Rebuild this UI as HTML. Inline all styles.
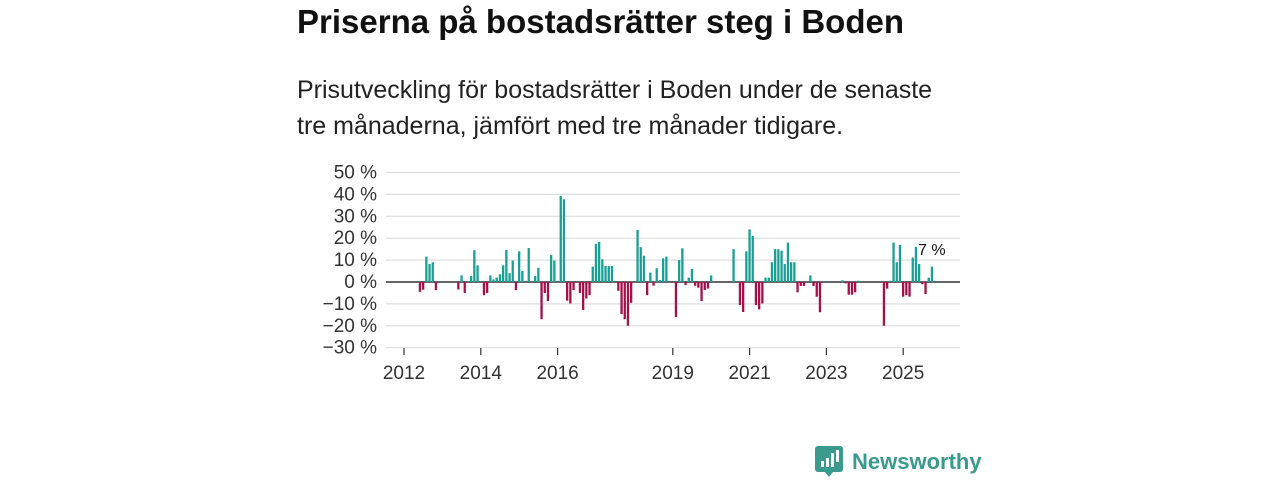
<!DOCTYPE html>
<html><head><meta charset="utf-8"><style>
body{margin:0;width:1280px;height:480px;background:#fff;font-family:"Liberation Sans","DejaVu Sans",sans-serif;overflow:hidden;position:relative}
h1{position:absolute;left:297px;top:3px;margin:0;font-size:33px;font-weight:bold;color:#111}
p{position:absolute;left:297px;top:72px;margin:0;font-size:25px;line-height:36px;color:#222;width:660px}
svg{position:absolute;left:0;top:0}
</style></head><body>
<h1>Priserna på bostadsrätter steg i Boden</h1>
<p>Prisutveckling för bostadsrätter i Boden under de senaste tre månaderna, jämfört med tre månader tidigare.</p>
<svg id="c" width="1280" height="480"></svg>
<script>
const startYear = 2012;
const values = [0,0,0,0,0,-4.5,-3.5,11.6,8.2,9,-3.7,0,0,0,0,0,0,-3.4,3,-5,0.3,2.7,14.5,7.6,0,-6,-5,3,1.2,2,3.5,7.6,14.6,4,9.8,-3.7,14,5,0,15.5,0,2.7,6.5,-17,-5,-8.7,12.3,9.8,0,39.3,37.8,-8.5,-9.8,-3.7,0,-5,-12.8,-7.5,-6,7,17.4,18.3,10.4,7.3,7.3,7.3,0,-4,-14.6,-17,-20,-9.5,0,23.8,15.9,12,-6,4.3,-1.7,6.3,0.9,10.8,11.6,0,0,-16,10,15.4,-1.4,2,6,-1.7,-2.6,-8.7,-3.7,-3,3,0,0,0,0,0,0,15,0,-10.5,-13.7,14,24,21,-10.5,-12.5,-9.8,2,2,9,15,15,14.3,8.2,18,9,9,-4.7,-1.8,-1.8,0,3,-1.8,-6.7,-13.8,0,0,0,0,0,0,0.8,-0.6,-5.8,-5.8,-4.7,0.6,0,0,0,0,0,0,0,-20,-3,0.6,18,9,17,-6.7,-6,-6.7,11.2,16,8.2,-1,-5.5,2,7];
const yTicks = [50,40,30,20,10,0,-10,-20,-30];
const xTicks = [2012,2014,2016,2019,2021,2023,2025];
const NS="http://www.w3.org/2000/svg", svg=document.getElementById('c');
const y = v => 282 - v*2.19;
const xm = m => 404 + m*3.2;
const xYear = yr => xm((yr-startYear)*12);
function mk(t,a,p){const e=document.createElementNS(NS,t);for(const k in a)e.setAttribute(k,a[k]);(p||svg).appendChild(e);return e;}
yTicks.forEach(t=>{
  const l=mk('line',{x1:386,x2:960,y1:y(t),y2:y(t),stroke:t===0?'#333':'#ddd','stroke-width':t===0?1.6:1.2});
  
  
  const tx=mk('text',{x:377,y:y(t)+6,'text-anchor':'end','font-size':19,fill:'#333'});
  tx.textContent=(t<0?'\u2212'+(-t):t)+' %';
  
  
});
values.forEach((v,i)=>{
  if(v===0)return;
  const r=mk('rect',{x:xm(i)-1.2,width:2.3,y:Math.min(y(v),y(0)),height:Math.abs(y(v)-y(0)),fill:v>0?'#1a9f95':'#a3104a'});
  
  
});
xTicks.forEach(t=>{
  const l=mk('line',{x1:xYear(t),x2:xYear(t),y1:348,y2:355,stroke:'#333','stroke-width':1.2});
  
  
  const tx=mk('text',{x:xYear(t),y:379,'text-anchor':'middle','font-size':19,fill:'#333'});
  tx.textContent=t;
  
  
});
const last=values.length-1;
const lab=mk('text',{x:xm(last)-14,y:255,'font-size':16,fill:'#111'});
lab.textContent=values[last]+' %';


</script>
<div style="position:absolute;left:815px;top:447px;height:30px;display:flex;align-items:center">
<svg width="28" height="32" viewBox="0 0 28 32" style="position:static"><rect x="0" y="0" width="28" height="26" rx="3" fill="#3a9a8c"/><polygon points="10,26 18,26 14,31" fill="#3a9a8c"/><rect x="6" y="15" width="3" height="6" fill="#fff"/><rect x="11" y="12" width="3" height="9" fill="#fff"/><rect x="16" y="7" width="3" height="14" fill="#fff"/><rect x="21" y="4" width="3" height="12" fill="#fff"/></svg>
<span style="margin-left:9px;font-size:22px;font-weight:bold;color:#3a9a8c">Newsworthy</span></div>
</body></html>
